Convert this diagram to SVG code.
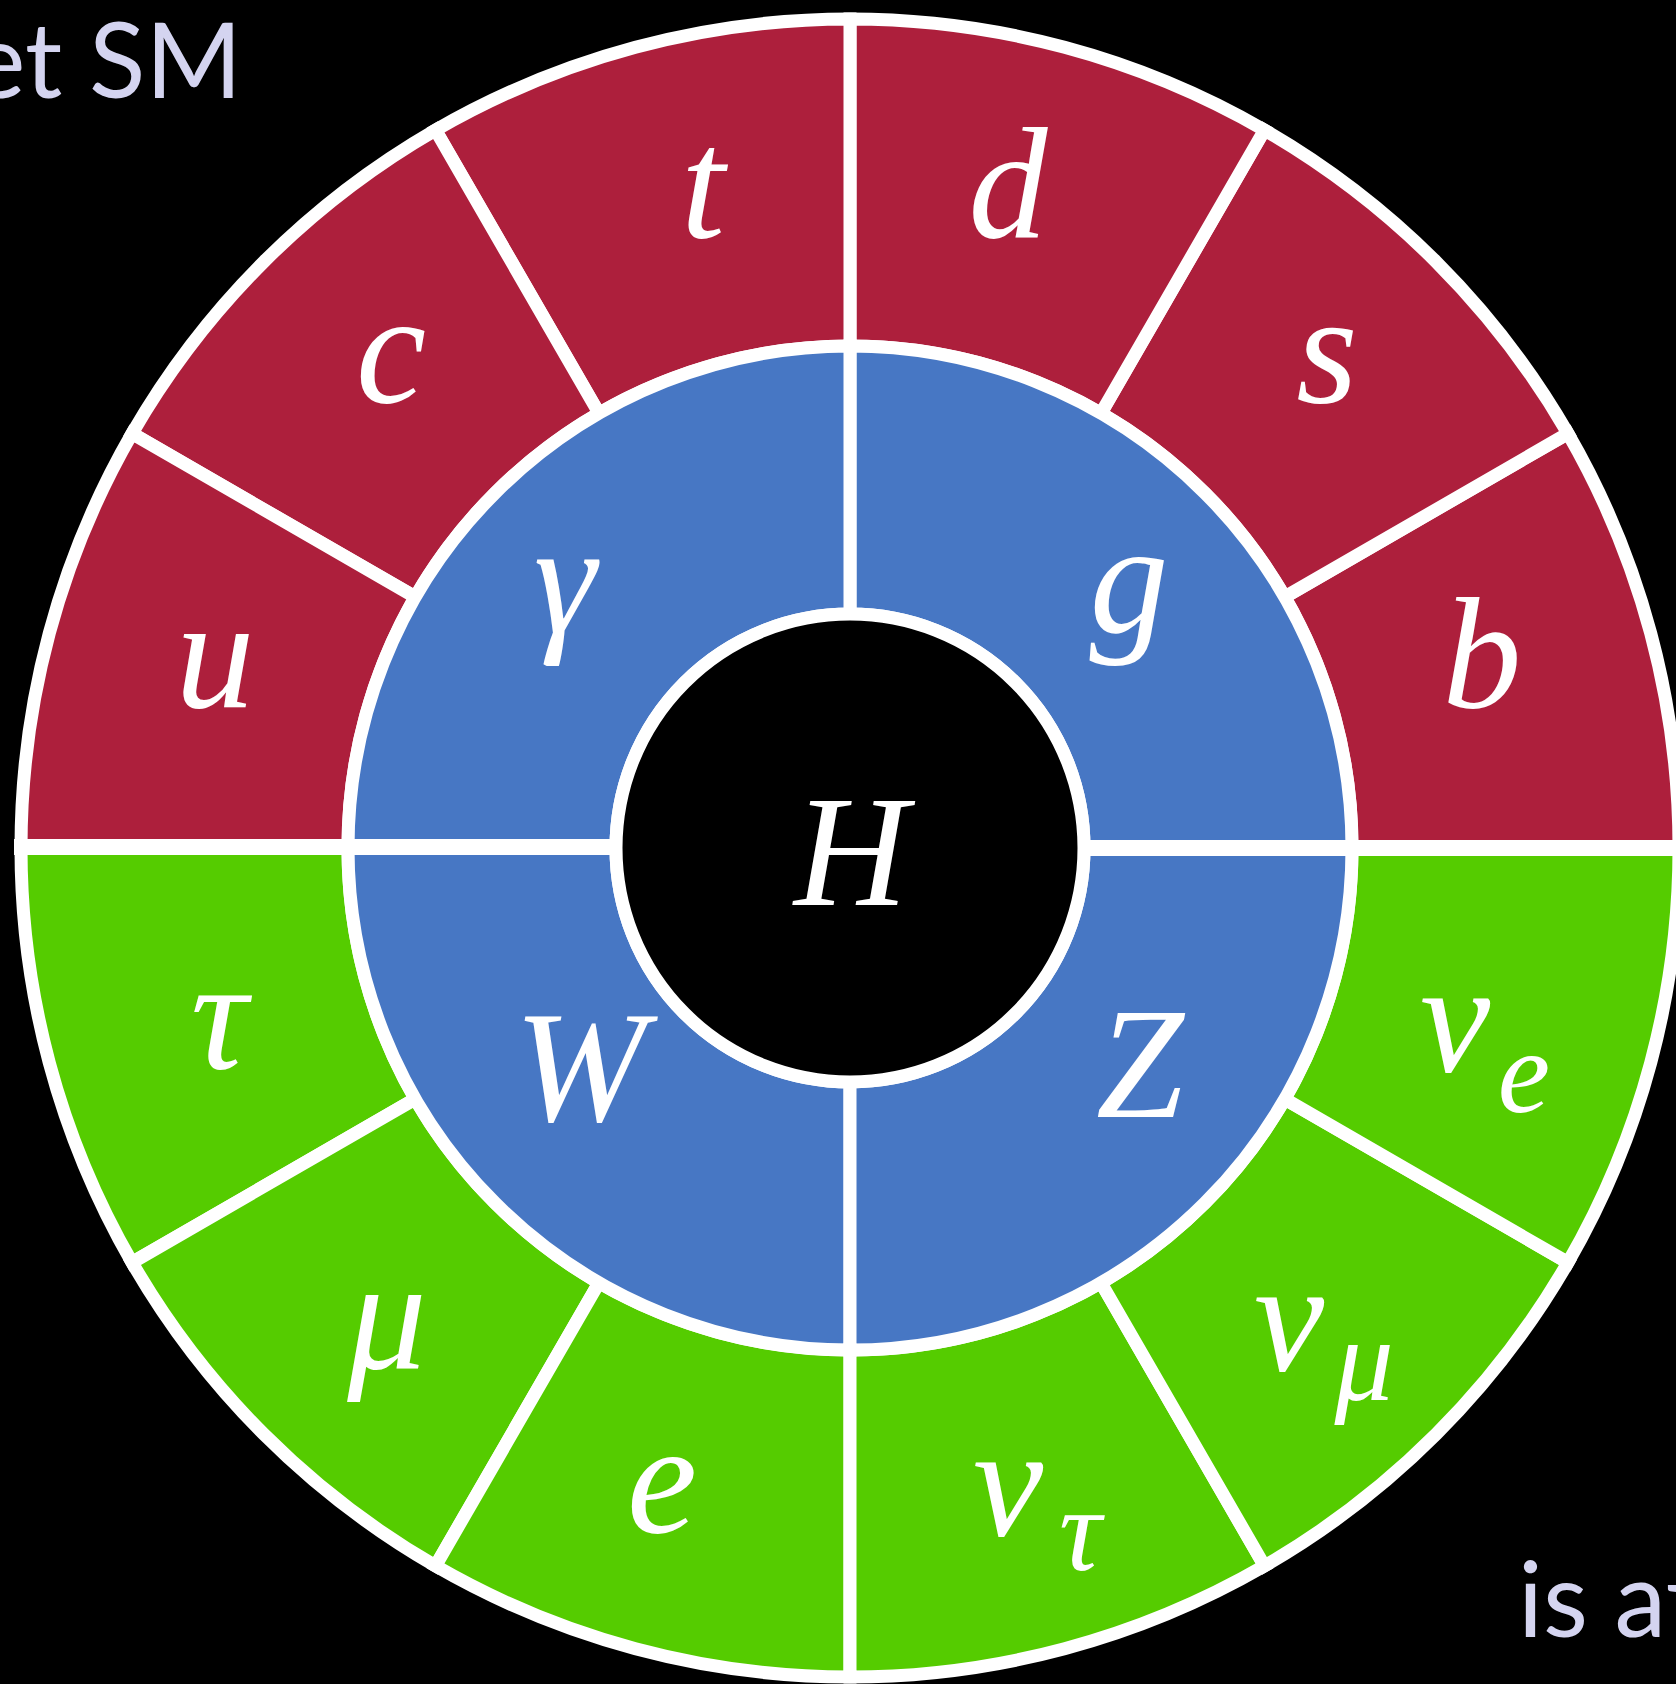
<svg xmlns="http://www.w3.org/2000/svg" width="1676" height="1684" viewBox="0 0 1676 1684">
<style>
.red{fill:#AD1F3C;stroke:#fff;stroke-width:13}
.grn{fill:#55CC00;stroke:#fff;stroke-width:13}
.blu{fill:#4777C4;stroke:#fff;stroke-width:13}
.lbl{font-family:"Liberation Serif","Times New Roman",serif;font-style:italic;font-size:158px;fill:#fff;text-anchor:middle}
.sub{font-size:118px}
.side{font-family:Lato,"Open Sans",sans-serif;font-size:104px;fill:#D4D4F0}
.div{stroke:#fff;stroke-width:16}
</style>
<rect width="1676" height="1684" fill="#000"/>
<text class="side" x="242" y="98" text-anchor="end">et SM</text>
<text class="side" x="1518" y="1637">is af</text>
<g id="quarks">
<g id="b"><path class="red" d="M1679,848 A829,829 0 0 0 1567.94,433.5 L1284.74,597 A502,502 0 0 1 1352,848 Z"/><text class="lbl" x="1482" y="707">b</text></g>
<g id="s"><path class="red" d="M1567.94,433.5 A829,829 0 0 0 1264.5,130.06 L1101,413.26 A502,502 0 0 1 1284.74,597 Z"/><text class="lbl" x="1327" y="402">s</text></g>
<g id="d"><path class="red" d="M1264.5,130.06 A829,829 0 0 0 850,19 L850,346 A502,502 0 0 1 1101,413.26 Z"/><text class="lbl" x="1008" y="237">d</text></g>
<g id="t"><path class="red" d="M850,19 A829,829 0 0 0 435.5,130.06 L599,413.26 A502,502 0 0 1 850,346 Z"/><text class="lbl" x="703" y="237">t</text></g>
<g id="c"><path class="red" d="M435.5,130.06 A829,829 0 0 0 132.06,433.5 L415.26,597 A502,502 0 0 1 599,413.26 Z"/><text class="lbl" x="391" y="402">c</text></g>
<g id="u"><path class="red" d="M132.06,433.5 A829,829 0 0 0 21,848 L348,848 A502,502 0 0 1 415.26,597 Z"/><text class="lbl" x="215" y="707">u</text></g>
</g>
<g id="leptons">
<g id="tau"><path class="grn" d="M21,848 A829,829 0 0 0 132.06,1262.5 L415.26,1099 A502,502 0 0 1 348,848 Z"/><text class="lbl" x="219" y="1068">τ</text></g>
<g id="mu"><path class="grn" d="M132.06,1262.5 A829,829 0 0 0 435.5,1565.94 L599,1282.74 A502,502 0 0 1 415.26,1099 Z"/><text class="lbl" x="387" y="1368">μ</text></g>
<g id="e"><path class="grn" d="M435.5,1565.94 A829,829 0 0 0 850,1677 L850,1350 A502,502 0 0 1 599,1282.74 Z"/><text class="lbl" x="662" y="1532">e</text></g>
<g id="nutau"><path class="grn" d="M850,1677 A829,829 0 0 0 1264.5,1565.94 L1101,1282.74 A502,502 0 0 1 850,1350 Z"/><text class="lbl" x="1008" y="1535">ν</text><text class="lbl sub" x="1080" y="1570">τ</text></g>
<g id="numu"><path class="grn" d="M1264.5,1565.94 A829,829 0 0 0 1567.94,1262.5 L1284.74,1099 A502,502 0 0 1 1101,1282.74 Z"/><text class="lbl" x="1289" y="1370">ν</text><text class="lbl sub" x="1364" y="1400">μ</text></g>
<g id="nue"><path class="grn" d="M1567.94,1262.5 A829,829 0 0 0 1679,848 L1352,848 A502,502 0 0 1 1284.74,1099 Z"/><text class="lbl" x="1455" y="1071">ν</text><text class="lbl sub" x="1524" y="1112">e</text></g>
</g>
<g id="bosons">
<g id="g"><path class="blu" d="M1352,848 A502,502 0 0 0 850,346 L850,614 A234,234 0 0 1 1084,848 Z"/><text class="lbl" x="1129" y="632">g</text></g>
<g id="gamma"><path class="blu" d="M850,346 A502,502 0 0 0 348,848 L616,848 A234,234 0 0 1 850,614 Z"/><text class="lbl" x="565" y="632">γ</text></g>
<g id="W"><path class="blu" d="M348,848 A502,502 0 0 0 850,1350 L850,1082 A234,234 0 0 1 616,848 Z"/><text class="lbl" x="580" y="1121">W</text></g>
<g id="Z"><path class="blu" d="M850,1350 A502,502 0 0 0 1352,848 L1084,848 A234,234 0 0 1 850,1082 Z"/><text class="lbl" x="1140" y="1117">Z</text></g>
</g>
<g id="connectors">
<line class="div" x1="14" y1="847" x2="616" y2="847"/>
<line class="div" x1="1084" y1="848" x2="1690" y2="848"/>
</g>
<g id="H"><circle cx="850" cy="848" r="234" fill="#000" stroke="#fff" stroke-width="13"/><text class="lbl" x="851" y="905">H</text></g>
</svg>
